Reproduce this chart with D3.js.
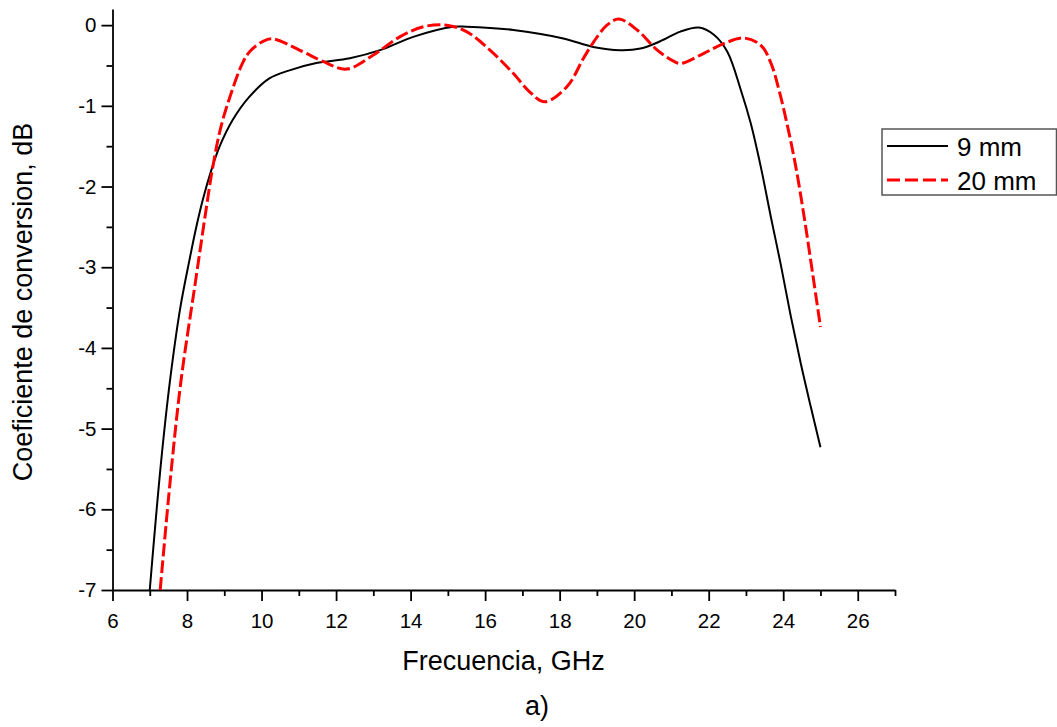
<!DOCTYPE html>
<html>
<head>
<meta charset="utf-8">
<script src="https://cdn.jsdelivr.net/npm/d3@7"></script>
<style>
  html, body { margin: 0; padding: 0; background: #fff; }
  svg { display: block; font-family: "Liberation Sans", Arial, sans-serif; }
</style>
</head>
<body>
<svg id="chart" width="1057" height="727"></svg>
<script>
// ---- Data ----
const freq9 = [7.0, 7.30, 7.55, 7.82, 8.07, 8.24, 8.42, 8.65, 8.87, 9.22, 9.67, 10.21, 10.75, 11.47, 12.37, 13.18, 14.07, 15.15, 15.5, 16.76, 18.1, 18.9, 19.63, 20.17, 20.7, 21.24, 21.74, 22.14, 22.5, 22.86, 23.13, 23.4, 23.67, 23.94, 24.2, 24.47, 24.74, 25.0];
const conv9 = [-7.0, -5.43, -4.38, -3.5, -2.9, -2.52, -2.17, -1.80, -1.51, -1.18, -0.89, -0.66, -0.56, -0.47, -0.41, -0.31, -0.145, -0.02, -0.02, -0.06, -0.165, -0.27, -0.31, -0.29, -0.2, -0.08, -0.03, -0.12, -0.33, -0.8, -1.22, -1.76, -2.38, -2.98, -3.6, -4.19, -4.73, -5.23];

const freq20 = [7.28, 7.55, 7.84, 8.22, 8.51, 8.69, 8.91, 9.18, 9.49, 9.68, 10.04, 10.3, 11.11, 11.65, 12.28, 13.0, 13.71, 14.34, 14.97, 15.5, 16.13, 16.76, 17.2, 17.6, 18.2, 18.64, 18.91, 19.27, 19.59, 20.08, 20.62, 21.07, 21.25, 21.87, 22.4, 22.95, 23.4, 23.67, 23.89, 24.12, 24.34, 24.56, 24.79, 25.0];
const conv20 = [-7.0, -5.64, -4.4, -3.2, -2.29, -1.76, -1.26, -0.85, -0.47, -0.33, -0.2, -0.17, -0.33, -0.45, -0.545, -0.37, -0.145, -0.02, 0.0, -0.08, -0.31, -0.6, -0.83, -0.95, -0.76, -0.41, -0.21, 0.0, 0.075, -0.06, -0.31, -0.45, -0.475, -0.35, -0.23, -0.16, -0.25, -0.47, -0.81, -1.26, -1.76, -2.37, -3.08, -3.74];

const xTicks = [6, 8, 10, 12, 14, 16, 18, 20, 22, 24, 26];
const xMinor = [7, 9, 11, 13, 15, 17, 19, 21, 23, 25, 27];
const yTicks = [-7, -6, -5, -4, -3, -2, -1, 0];
const yMinor = [-6.5, -5.5, -4.5, -3.5, -2.5, -1.5, -0.5];

const seriesNames = ["9 mm", "20 mm"];
const xTitle = "Frecuencia, GHz";
const yTitle = "Coeficiente de conversion, dB";
const caption = "a)";

// ---- Layout ----
const svg = d3.select("#chart");
const x = d3.scaleLinear().domain([6, 27]).range([112.5, 895]);
const y = d3.scaleLinear().domain([-7, 0.2]).range([590, 9]);

svg.append("defs").append("clipPath").attr("id", "plotclip")
  .append("rect").attr("x", x(6)).attr("y", y(0.2) - 10)
  .attr("width", x(27) - x(6)).attr("height", y(-7) - y(0.2) + 10);

// Minor ticks
svg.append("g").attr("transform", `translate(0,${y(-7)})`)
  .call(d3.axisBottom(x).tickValues(xMinor).tickSize(6).tickFormat(""))
  .call(g => g.select(".domain").remove())
  .call(g => g.selectAll("line").attr("stroke", "#000").attr("stroke-width", 1.8));
svg.append("g").attr("transform", `translate(${x(6)},0)`)
  .call(d3.axisLeft(y).tickValues(yMinor).tickSize(6).tickFormat(""))
  .call(g => g.select(".domain").remove())
  .call(g => g.selectAll("line").attr("stroke", "#000").attr("stroke-width", 1.8));

// Major axes
const xAxis = svg.append("g").attr("transform", `translate(0,${y(-7)})`)
  .call(d3.axisBottom(x).tickValues(xTicks).tickSize(11).tickSizeOuter(0).tickPadding(12).tickFormat(d3.format("d")));
const yAxis = svg.append("g").attr("transform", `translate(${x(6)},0)`)
  .call(d3.axisLeft(y).tickValues(yTicks).tickSize(11).tickSizeOuter(0).tickPadding(5).tickFormat(d3.format("d")));
[xAxis, yAxis].forEach(g => {
  g.select(".domain").attr("stroke", "#000").attr("stroke-width", 1.8);
  g.selectAll("line").attr("stroke", "#000").attr("stroke-width", 1.8);
  g.selectAll("text").attr("font-size", 20.5).attr("fill", "#000")
    .attr("font-family", "'Liberation Sans', Arial, sans-serif");
});
yAxis.selectAll("text").text(d => String(d));

// Lines
const line = d3.line().x(d => x(d[0])).y(d => y(d[1])).curve(d3.curveCatmullRom.alpha(0.5));
const plot = svg.append("g").attr("clip-path", "url(#plotclip)");
plot.append("path").datum(d3.zip(freq9, conv9)).attr("d", line)
  .attr("fill", "none").attr("stroke", "#000").attr("stroke-width", 2);
plot.append("path").datum(d3.zip(freq20, conv20)).attr("d", line)
  .attr("fill", "none").attr("stroke", "#ff0000").attr("stroke-width", 3)
  .attr("stroke-dasharray", "13,4");

// Titles
svg.append("text").attr("x", 503.5).attr("y", 670).attr("text-anchor", "middle")
  .attr("font-size", 27).text(xTitle);
svg.append("text").attr("transform", "translate(32,302) rotate(-90)").attr("text-anchor", "middle")
  .attr("font-size", 27).text(yTitle);
svg.append("text").attr("x", 537).attr("y", 715).attr("text-anchor", "middle")
  .attr("font-size", 27).text(caption);

// Legend
const lg = svg.append("g");
lg.append("rect").attr("x", 882).attr("y", 129).attr("width", 174.5).attr("height", 66)
  .attr("fill", "#fff").attr("stroke", "#555").attr("stroke-width", 1.5);
const rows = [
  {name: seriesNames[0], color: "#000", w: 2, dash: null, cy: 146},
  {name: seriesNames[1], color: "#ff0000", w: 3, dash: "13,5", cy: 180}
];
rows.forEach(r => {
  lg.append("line").attr("x1", 887).attr("x2", 948).attr("y1", r.cy).attr("y2", r.cy)
    .attr("stroke", r.color).attr("stroke-width", r.w).attr("stroke-dasharray", r.dash);
  lg.append("text").attr("x", 957).attr("y", r.cy + 9.5).attr("font-size", 26).text(r.name);
});
</script>
</body>
</html>
